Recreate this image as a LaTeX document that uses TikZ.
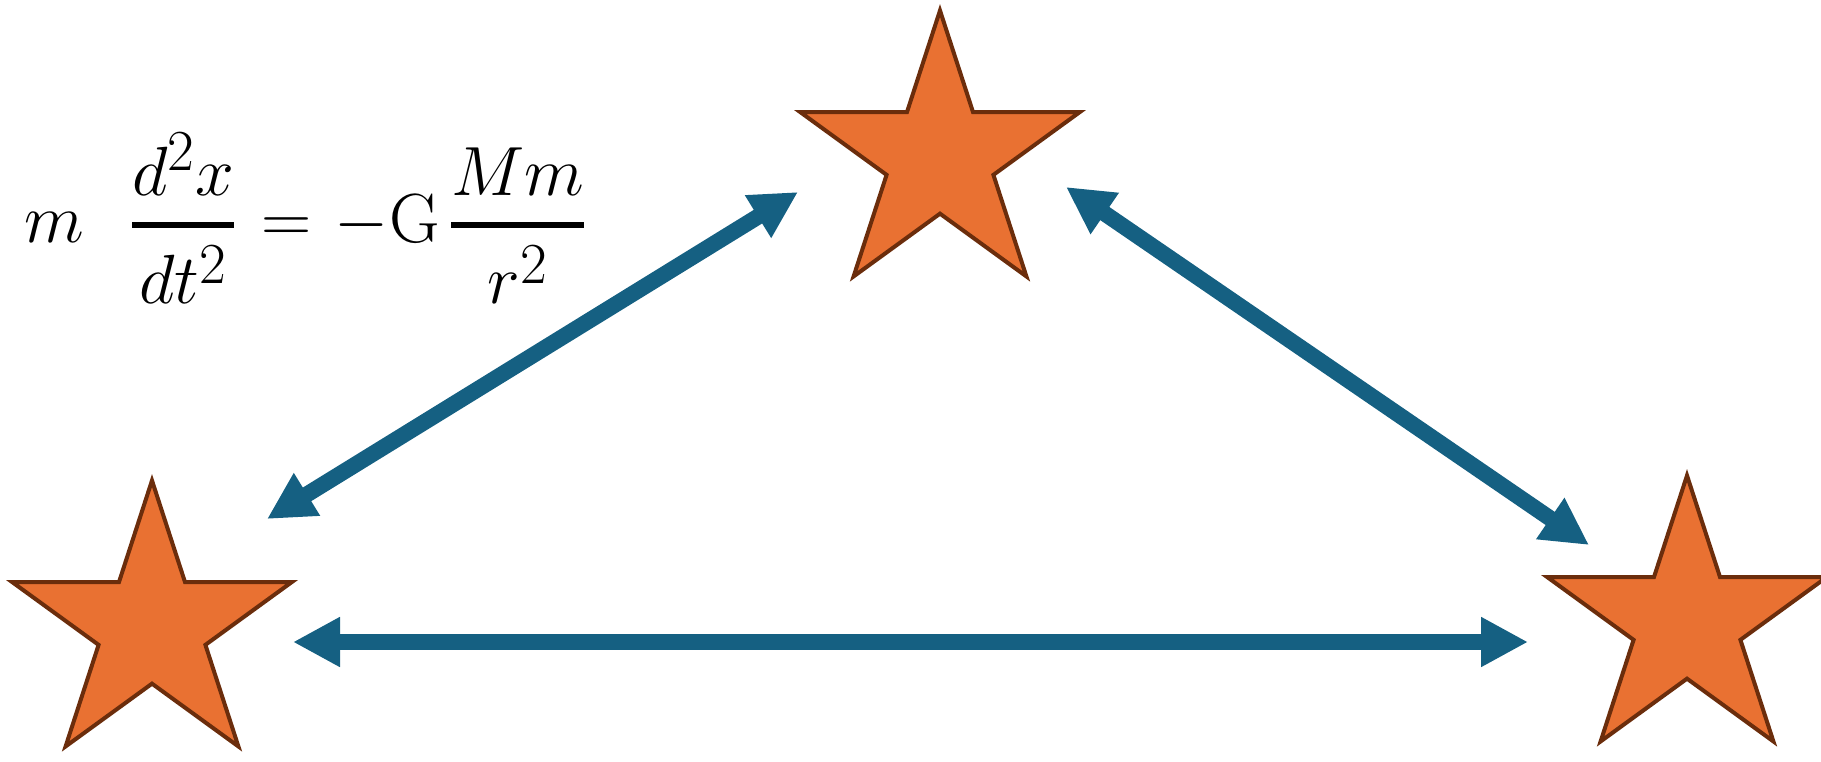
\documentclass[tikz,border=0pt]{standalone}
\usepackage{amsmath, amssymb}
\usepackage{graphicx}
\usepackage{xcolor}
\usetikzlibrary{shapes.geometric, arrows.meta}
\definecolor{starfill}{HTML}{E97132}
\definecolor{starline}{HTML}{6B2D0C}
\definecolor{pullblue}{HTML}{156082}
\newcommand{\barfrac}[2]{\genfrac{}{}{2.1pt}{0}{#1}{#2}}

\begin{document}
\begin{tikzpicture}[x=0.5pt, y=-0.5pt,
  body/.style={star, star points=5, star point ratio=2.618, minimum size=147pt,
    inner sep=0pt, fill=starfill, draw=starline, line width=2pt},
  pull/.style={pullblue, line width=8pt,
    {Triangle[length=23.5pt,width=23.5pt]}-{Triangle[length=23.5pt,width=23.5pt]}}]
\useasboundingbox (0,0) rectangle (1821,761);

\node[body] (top) at (940,157.5) {};
\node[body] (left) at (152,627.5) {};
\node[body] (right) at (1687,622.5) {};

\coordinate (lt) at (267,519);
\coordinate (tl) at (798,192);
\coordinate (tr) at (1066,187);
\coordinate (rt) at (1589,545);
\coordinate (lr) at (293,642);
\coordinate (rl) at (1528,642);

\draw[pull] (lt) -- (tl);
\draw[pull] (tr) -- (rt);
\draw[pull] (lr) -- (rl);

\node[inner sep=0pt] (law) at (306,218) {\scalebox{1.4}{\fontsize{24.88}{30}\selectfont
  $\displaystyle m\hspace{16pt}\barfrac{d^2x}{dt^2}\hspace{1.5pt}=\hspace{1.5pt}-\mathrm{G}\hspace{3pt}\barfrac{Mm}{r^2}$}};
\end{tikzpicture}
\end{document}
